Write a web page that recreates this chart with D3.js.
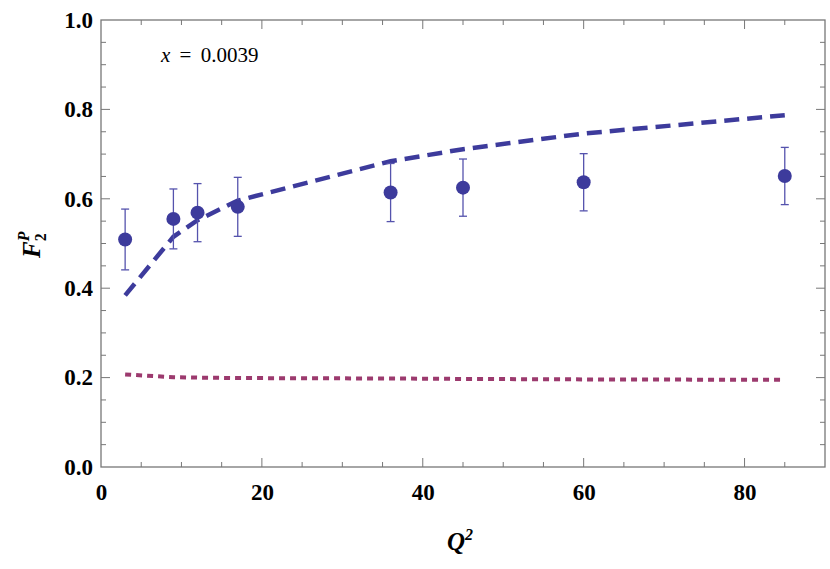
<!DOCTYPE html>
<html>
<head>
<meta charset="utf-8">
<script src="https://cdn.jsdelivr.net/npm/d3@7"></script>
<style>
  body { margin: 0; background: white; }
  text { font-family: "Liberation Serif", "DejaVu Serif", serif; }
</style>
</head>
<body>
<main></main>
<script>
// data
const q2 = [3, 9, 12, 17, 36, 45, 60, 85]
const f2Data = [0.509, 0.555, 0.569, 0.582, 0.614, 0.625, 0.637, 0.651]
const f2Err = [0.068, 0.067, 0.065, 0.066, 0.065, 0.064, 0.064, 0.064]
const f2Dashed = [0.384, 0.515, 0.552, 0.596, 0.684, 0.711, 0.746, 0.787]
const f2Dotted = [0.207, 0.201, 0.200, 0.199, 0.198, 0.197, 0.196, 0.195]
const xTicks = [0, 20, 40, 60, 80]
const yTicks = [0.0, 0.2, 0.4, 0.6, 0.8, 1.0]

const svgWidth = 830
const svgHeight = 569
const plotLeft = 101, plotRight = 825, plotTop = 20, plotBottom = 467

const blue = "#3d3b9c"
const pink = "#9c3a6e"

let svg = d3.select("main")
    .append("svg")
    .attr("width", svgWidth)
    .attr("height", svgHeight)

let xScale = d3.scaleLinear().domain([0, 90]).range([plotLeft, plotRight])
let yScale = d3.scaleLinear().domain([0, 1]).range([plotBottom, plotTop])

// frame ticks: minor every 5 / 0.05, major on labels
const axisColor = "#777"
let frame = svg.append("g")

let xMinor = d3.range(5, 90, 5)
let yMinor = d3.range(0.05, 1.0, 0.05)

frame.selectAll(".xt")
    .data(xMinor)
    .enter().append("line")
    .attr("x1", d => xScale(d)).attr("x2", d => xScale(d))
    .attr("y1", plotBottom).attr("y2", d => plotBottom - (d % 20 === 0 ? 9 : 5))
    .attr("stroke", axisColor)
frame.selectAll(".xtt")
    .data(xMinor)
    .enter().append("line")
    .attr("x1", d => xScale(d)).attr("x2", d => xScale(d))
    .attr("y1", plotTop).attr("y2", d => plotTop + (d % 20 === 0 ? 9 : 5))
    .attr("stroke", axisColor)

frame.selectAll(".yt")
    .data(yMinor)
    .enter().append("line")
    .attr("y1", d => yScale(d)).attr("y2", d => yScale(d))
    .attr("x1", plotLeft).attr("x2", d => plotLeft + (Math.round(d * 100) % 20 === 0 ? 9 : 5))
    .attr("stroke", axisColor)
frame.selectAll(".ytr")
    .data(yMinor)
    .enter().append("line")
    .attr("y1", d => yScale(d)).attr("y2", d => yScale(d))
    .attr("x1", plotRight).attr("x2", d => plotRight - (Math.round(d * 100) % 20 === 0 ? 9 : 5))
    .attr("stroke", axisColor)

frame.append("rect")
    .attr("x", plotLeft).attr("y", plotTop)
    .attr("width", plotRight - plotLeft).attr("height", plotBottom - plotTop)
    .attr("fill", "none")
    .attr("stroke", axisColor)
    .attr("stroke-width", 1.3)

// tick labels
let bottomAxis = d3.axisBottom(xScale).tickValues(xTicks).tickSize(0).tickPadding(17)
let xAxis = svg.append("g")
    .attr("transform", `translate(0, ${plotBottom})`)
    .call(bottomAxis)
xAxis.select("path").remove()
xAxis.selectAll("text")
    .style("font-family", "Liberation Serif")
    .style("font-size", "23px")
    .style("font-weight", "bold")
    .attr("fill", "black")

let leftAxis = d3.axisLeft(yScale).tickValues(yTicks).tickFormat(d3.format(".1f")).tickSize(0).tickPadding(8)
let yAxis = svg.append("g")
    .attr("transform", `translate(${plotLeft}, 0)`)
    .call(leftAxis)
yAxis.select("path").remove()
yAxis.selectAll("text")
    .style("font-family", "Liberation Serif")
    .style("font-size", "23px")
    .style("font-weight", "bold")
    .attr("fill", "black")

// curves
let pts = q2.map((q, i) => ({q: q, data: f2Data[i], err: f2Err[i], dash: f2Dashed[i], dot: f2Dotted[i]}))

let dashLine = d3.line().x(d => xScale(d.q)).y(d => yScale(d.dash))
let dotLine = d3.line().x(d => xScale(d.q)).y(d => yScale(d.dot))

svg.append("path")
    .datum(pts)
    .attr("d", dotLine)
    .attr("fill", "none")
    .attr("stroke", pink)
    .attr("stroke-width", 4)
    .attr("stroke-dasharray", "6,5")

svg.append("path")
    .datum(pts)
    .attr("d", dashLine)
    .attr("fill", "none")
    .attr("stroke", blue)
    .attr("stroke-width", 4.5)
    .attr("stroke-dasharray", "15,8")

// error bars + points
let eb = svg.append("g")
    .attr("stroke", "#5553ad")
    .attr("stroke-width", 1.3)

eb.selectAll(".v")
    .data(pts)
    .enter().append("line")
    .attr("x1", d => xScale(d.q)).attr("x2", d => xScale(d.q))
    .attr("y1", d => yScale(d.data - d.err)).attr("y2", d => yScale(d.data + d.err))
eb.selectAll(".cap-top")
    .data(pts)
    .enter().append("line")
    .attr("x1", d => xScale(d.q) - 4).attr("x2", d => xScale(d.q) + 4)
    .attr("y1", d => yScale(d.data + d.err)).attr("y2", d => yScale(d.data + d.err))
eb.selectAll(".cap-bot")
    .data(pts)
    .enter().append("line")
    .attr("x1", d => xScale(d.q) - 4).attr("x2", d => xScale(d.q) + 4)
    .attr("y1", d => yScale(d.data - d.err)).attr("y2", d => yScale(d.data - d.err))

svg.selectAll("circle")
    .data(pts)
    .enter().append("circle")
    .attr("cx", d => xScale(d.q))
    .attr("cy", d => yScale(d.data))
    .attr("r", 7)
    .attr("fill", blue)

// labels
svg.append("text")
    .attr("x", 161).attr("y", 62)
    .style("font-size", "21px")
    .style("word-spacing", "4px")
    .html('<tspan font-style="italic">x</tspan> = 0.0039')

svg.append("text")
    .attr("x", 460).attr("y", 550)
    .attr("text-anchor", "middle")
    .style("font-size", "25px")
    .style("font-weight", "bold")
    .style("font-style", "italic")
    .html('Q<tspan dy="-10" font-size="16px">2</tspan>')

let yl = svg.append("text")
    .attr("transform", "translate(40, 258) rotate(-90)")
    .style("font-size", "25px")
    .style("font-weight", "bold")
    .style("font-style", "italic")
yl.append("tspan").text("F")
yl.append("tspan").attr("dy", 6).attr("font-size", "16px").attr("font-style", "normal").text("2")
yl.append("tspan").attr("dx", -8).attr("dy", -17).attr("font-size", "16px").text("P")
</script>
</body>
</html>
